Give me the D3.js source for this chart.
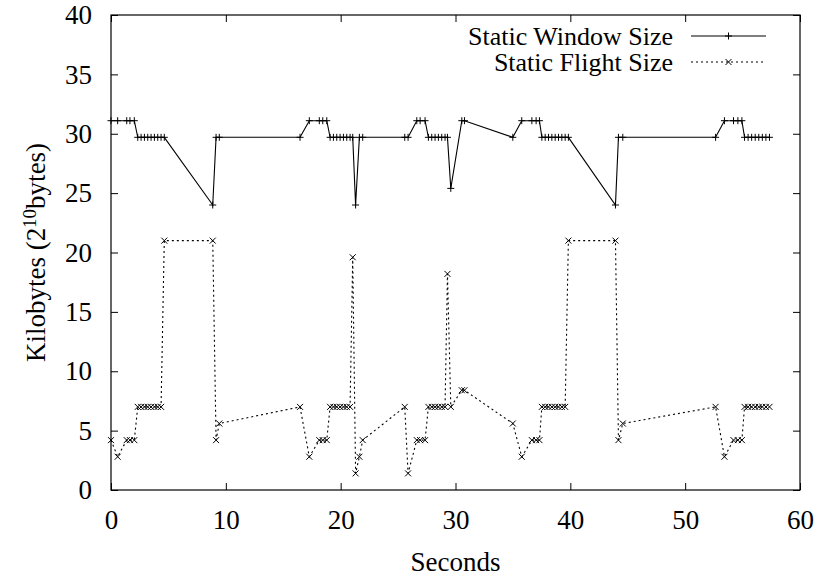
<!DOCTYPE html>
<html>
<head>
<meta charset="utf-8">
<script src="https://cdn.jsdelivr.net/npm/d3@7"></script>
<style>
  html, body { margin: 0; padding: 0; background: #fff; }
  svg { display: block; }
  text { font-family: "Liberation Serif", "Tinos", "Times New Roman", "Nimbus Roman", "DejaVu Serif", serif; fill: #000; }
</style>
</head>
<body>
<svg id="chart" width="820" height="579"></svg>
<script>
// ---- data ----
const times = [
  0.0, 0.58, 1.37, 1.65, 2.03,
  2.33, 2.62, 2.91, 3.20, 3.49, 3.78, 4.07, 4.36,
  4.64, 8.86, 9.15, 9.43, 16.46, 17.27,
  18.14, 18.44, 18.79,
  19.08, 19.37, 19.66, 19.95, 20.24, 20.53, 20.82,
  21.05, 21.3, 21.63, 21.92, 25.58, 25.87,
  26.63, 26.92, 27.35,
  27.64, 27.93, 28.22, 28.51, 28.80, 29.09,
  29.30, 29.59, 30.55, 30.78, 34.99, 35.77,
  36.65, 37.02, 37.31,
  37.52, 37.81, 38.10, 38.39, 38.68, 38.97, 39.26, 39.55,
  39.83, 43.93, 44.19, 44.57, 52.65, 53.42,
  54.21, 54.59, 54.94,
  55.17, 55.48, 55.79, 56.10, 56.41, 56.72, 57.03, 57.34
];
const windowSize = [
  31.1, 31.1, 31.1, 31.1, 31.1,
  29.7, 29.7, 29.7, 29.7, 29.7, 29.7, 29.7, 29.7,
  29.7, 24.0, 29.7, 29.7, 29.7, 31.1,
  31.1, 31.1, 31.1,
  29.7, 29.7, 29.7, 29.7, 29.7, 29.7, 29.7,
  29.7, 24.0, 29.7, 29.7, 29.7, 29.7,
  31.1, 31.1, 31.1,
  29.7, 29.7, 29.7, 29.7, 29.7, 29.7,
  29.7, 25.4, 31.1, 31.1, 29.7, 31.1,
  31.1, 31.1, 31.1,
  29.7, 29.7, 29.7, 29.7, 29.7, 29.7, 29.7, 29.7,
  29.7, 24.0, 29.7, 29.7, 29.7, 31.1,
  31.1, 31.1, 31.1,
  29.7, 29.7, 29.7, 29.7, 29.7, 29.7, 29.7, 29.7
];
const flightSize = [
  4.2, 2.8, 4.2, 4.2, 4.2,
  7.0, 7.0, 7.0, 7.0, 7.0, 7.0, 7.0, 7.0,
  21.0, 21.0, 4.2, 5.6, 7.0, 2.8,
  4.2, 4.2, 4.2,
  7.0, 7.0, 7.0, 7.0, 7.0, 7.0, 7.0,
  19.6, 1.4, 2.8, 4.2, 7.0, 1.4,
  4.2, 4.2, 4.2,
  7.0, 7.0, 7.0, 7.0, 7.0, 7.0,
  18.2, 7.0, 8.4, 8.4, 5.6, 2.8,
  4.2, 4.2, 4.2,
  7.0, 7.0, 7.0, 7.0, 7.0, 7.0, 7.0, 7.0,
  21.0, 21.0, 4.2, 5.6, 7.0, 2.8,
  4.2, 4.2, 4.2,
  7.0, 7.0, 7.0, 7.0, 7.0, 7.0, 7.0, 7.0
];
const xTicks = [0, 10, 20, 30, 40, 50, 60];
const yTicks = [0, 5, 10, 15, 20, 25, 30, 35, 40];
const seriesNames = ["Static Window Size", "Static Flight Size"];
const xLabel = "Seconds";

// ---- layout ----
const W = 820, H = 579;
const m = { left: 111, right: 20, top: 15, bottom: 89 };
const iw = W - m.left - m.right, ih = H - m.top - m.bottom;
const FS = 27;
const FONT = '"Liberation Serif", "Tinos", "Times New Roman", "Nimbus Roman", "DejaVu Serif", serif';

const svg = d3.select("#chart");
const g = svg.append("g").attr("transform", `translate(${m.left},${m.top})`);

const x = d3.scaleLinear().domain([0, 60]).range([0, iw]);
const y = d3.scaleLinear().domain([0, 40]).range([ih, 0]);

function styleAxis(sel, labels) {
  sel.attr("font-family", null).attr("font-size", null);
  sel.select(".domain").remove();
  sel.selectAll(".tick line").attr("stroke", "#000").attr("stroke-width", 1);
  sel.selectAll(".tick text").style("font-size", FS + "px")
     .style("font-family", FONT).attr("fill", "#000");
  if (!labels) sel.selectAll(".tick text").remove();
}

// axes with inward ticks on all sides
g.append("g").attr("transform", `translate(0,${ih})`)
  .call(d3.axisBottom(x).tickValues(xTicks).tickSizeInner(-7).tickSizeOuter(0).tickPadding(20).tickFormat(d3.format("d")))
  .call(s => styleAxis(s, true));
g.append("g")
  .call(d3.axisTop(x).tickValues(xTicks).tickSizeInner(-7).tickSizeOuter(0))
  .call(s => styleAxis(s, false));
g.append("g")
  .call(d3.axisLeft(y).tickValues(yTicks).tickSizeInner(-7).tickSizeOuter(0).tickPadding(19).tickFormat(d3.format("d")))
  .call(s => styleAxis(s, true));
g.append("g").attr("transform", `translate(${iw},0)`)
  .call(d3.axisRight(y).tickValues(yTicks).tickSizeInner(-7).tickSizeOuter(0))
  .call(s => styleAxis(s, false));

// border
g.append("rect").attr("x", 0).attr("y", 0).attr("width", iw).attr("height", ih)
  .attr("fill", "none").attr("stroke", "#000").attr("stroke-width", 1.2);

// axis titles
svg.append("text").attr("x", m.left + iw / 2).attr("y", 571)
  .attr("text-anchor", "middle").style("font-size", FS + "px").style("font-family", FONT).text(xLabel);

const yl = svg.append("text")
  .attr("transform", `translate(45,${m.top + ih / 2}) rotate(-90)`)
  .attr("text-anchor", "middle").style("font-size", FS + "px").style("font-family", FONT);
yl.append("tspan").text("Kilobytes (2");
yl.append("tspan").attr("dy", "-0.45em").style("font-size", "19px").text("10");
yl.append("tspan").attr("dy", "0.32em").text("bytes)");

// data
const pts = times.map((t, i) => ({ t, w: windowSize[i], f: flightSize[i] }));

const lineW = d3.line().x(d => x(d.t)).y(d => y(d.w));
const lineF = d3.line().x(d => x(d.t)).y(d => y(d.f));

g.append("path").datum(pts).attr("d", lineW)
  .attr("fill", "none").attr("stroke", "#000").attr("stroke-width", 1.1);
g.append("path").datum(pts).attr("d", lineF)
  .attr("fill", "none").attr("stroke", "#000").attr("stroke-width", 1.1)
  .attr("stroke-dasharray", "2,3");

const plusPath = (cx, cy, r) => `M${cx - r},${cy}H${cx + r}M${cx},${cy - r}V${cy + r}`;
const crossPath = (cx, cy, r) => `M${cx - r},${cy - r}L${cx + r},${cy + r}M${cx - r},${cy + r}L${cx + r},${cy - r}`;

g.append("g").selectAll("path").data(pts).join("path")
  .attr("d", d => plusPath(x(d.t), y(d.w), 3.5))
  .attr("stroke", "#000").attr("stroke-width", 1).attr("fill", "none");
g.append("g").selectAll("path").data(pts).join("path")
  .attr("d", d => crossPath(x(d.t), y(d.f), 3))
  .attr("stroke", "#000").attr("stroke-width", 1).attr("fill", "none");

// legend
const legend = svg.append("g");
const legRows = [
  { name: seriesNames[0], yy: 36, dash: null, mark: plusPath, r: 3.5 },
  { name: seriesNames[1], yy: 62, dash: "2,3", mark: crossPath, r: 3 }
];
legRows.forEach(rw => {
  legend.append("text").attr("x", 673).attr("y", rw.yy).attr("dy", "0.36em")
    .attr("text-anchor", "end").style("font-size", "26px").style("font-family", FONT).text(rw.name);
  legend.append("line").attr("x1", 691).attr("x2", 766).attr("y1", rw.yy).attr("y2", rw.yy)
    .attr("stroke", "#000").attr("stroke-width", 1.1).attr("stroke-dasharray", rw.dash);
  legend.append("path").attr("d", rw.mark(728.5, rw.yy, rw.r))
    .attr("stroke", "#000").attr("stroke-width", 1).attr("fill", "none");
});
</script>
</body>
</html>
